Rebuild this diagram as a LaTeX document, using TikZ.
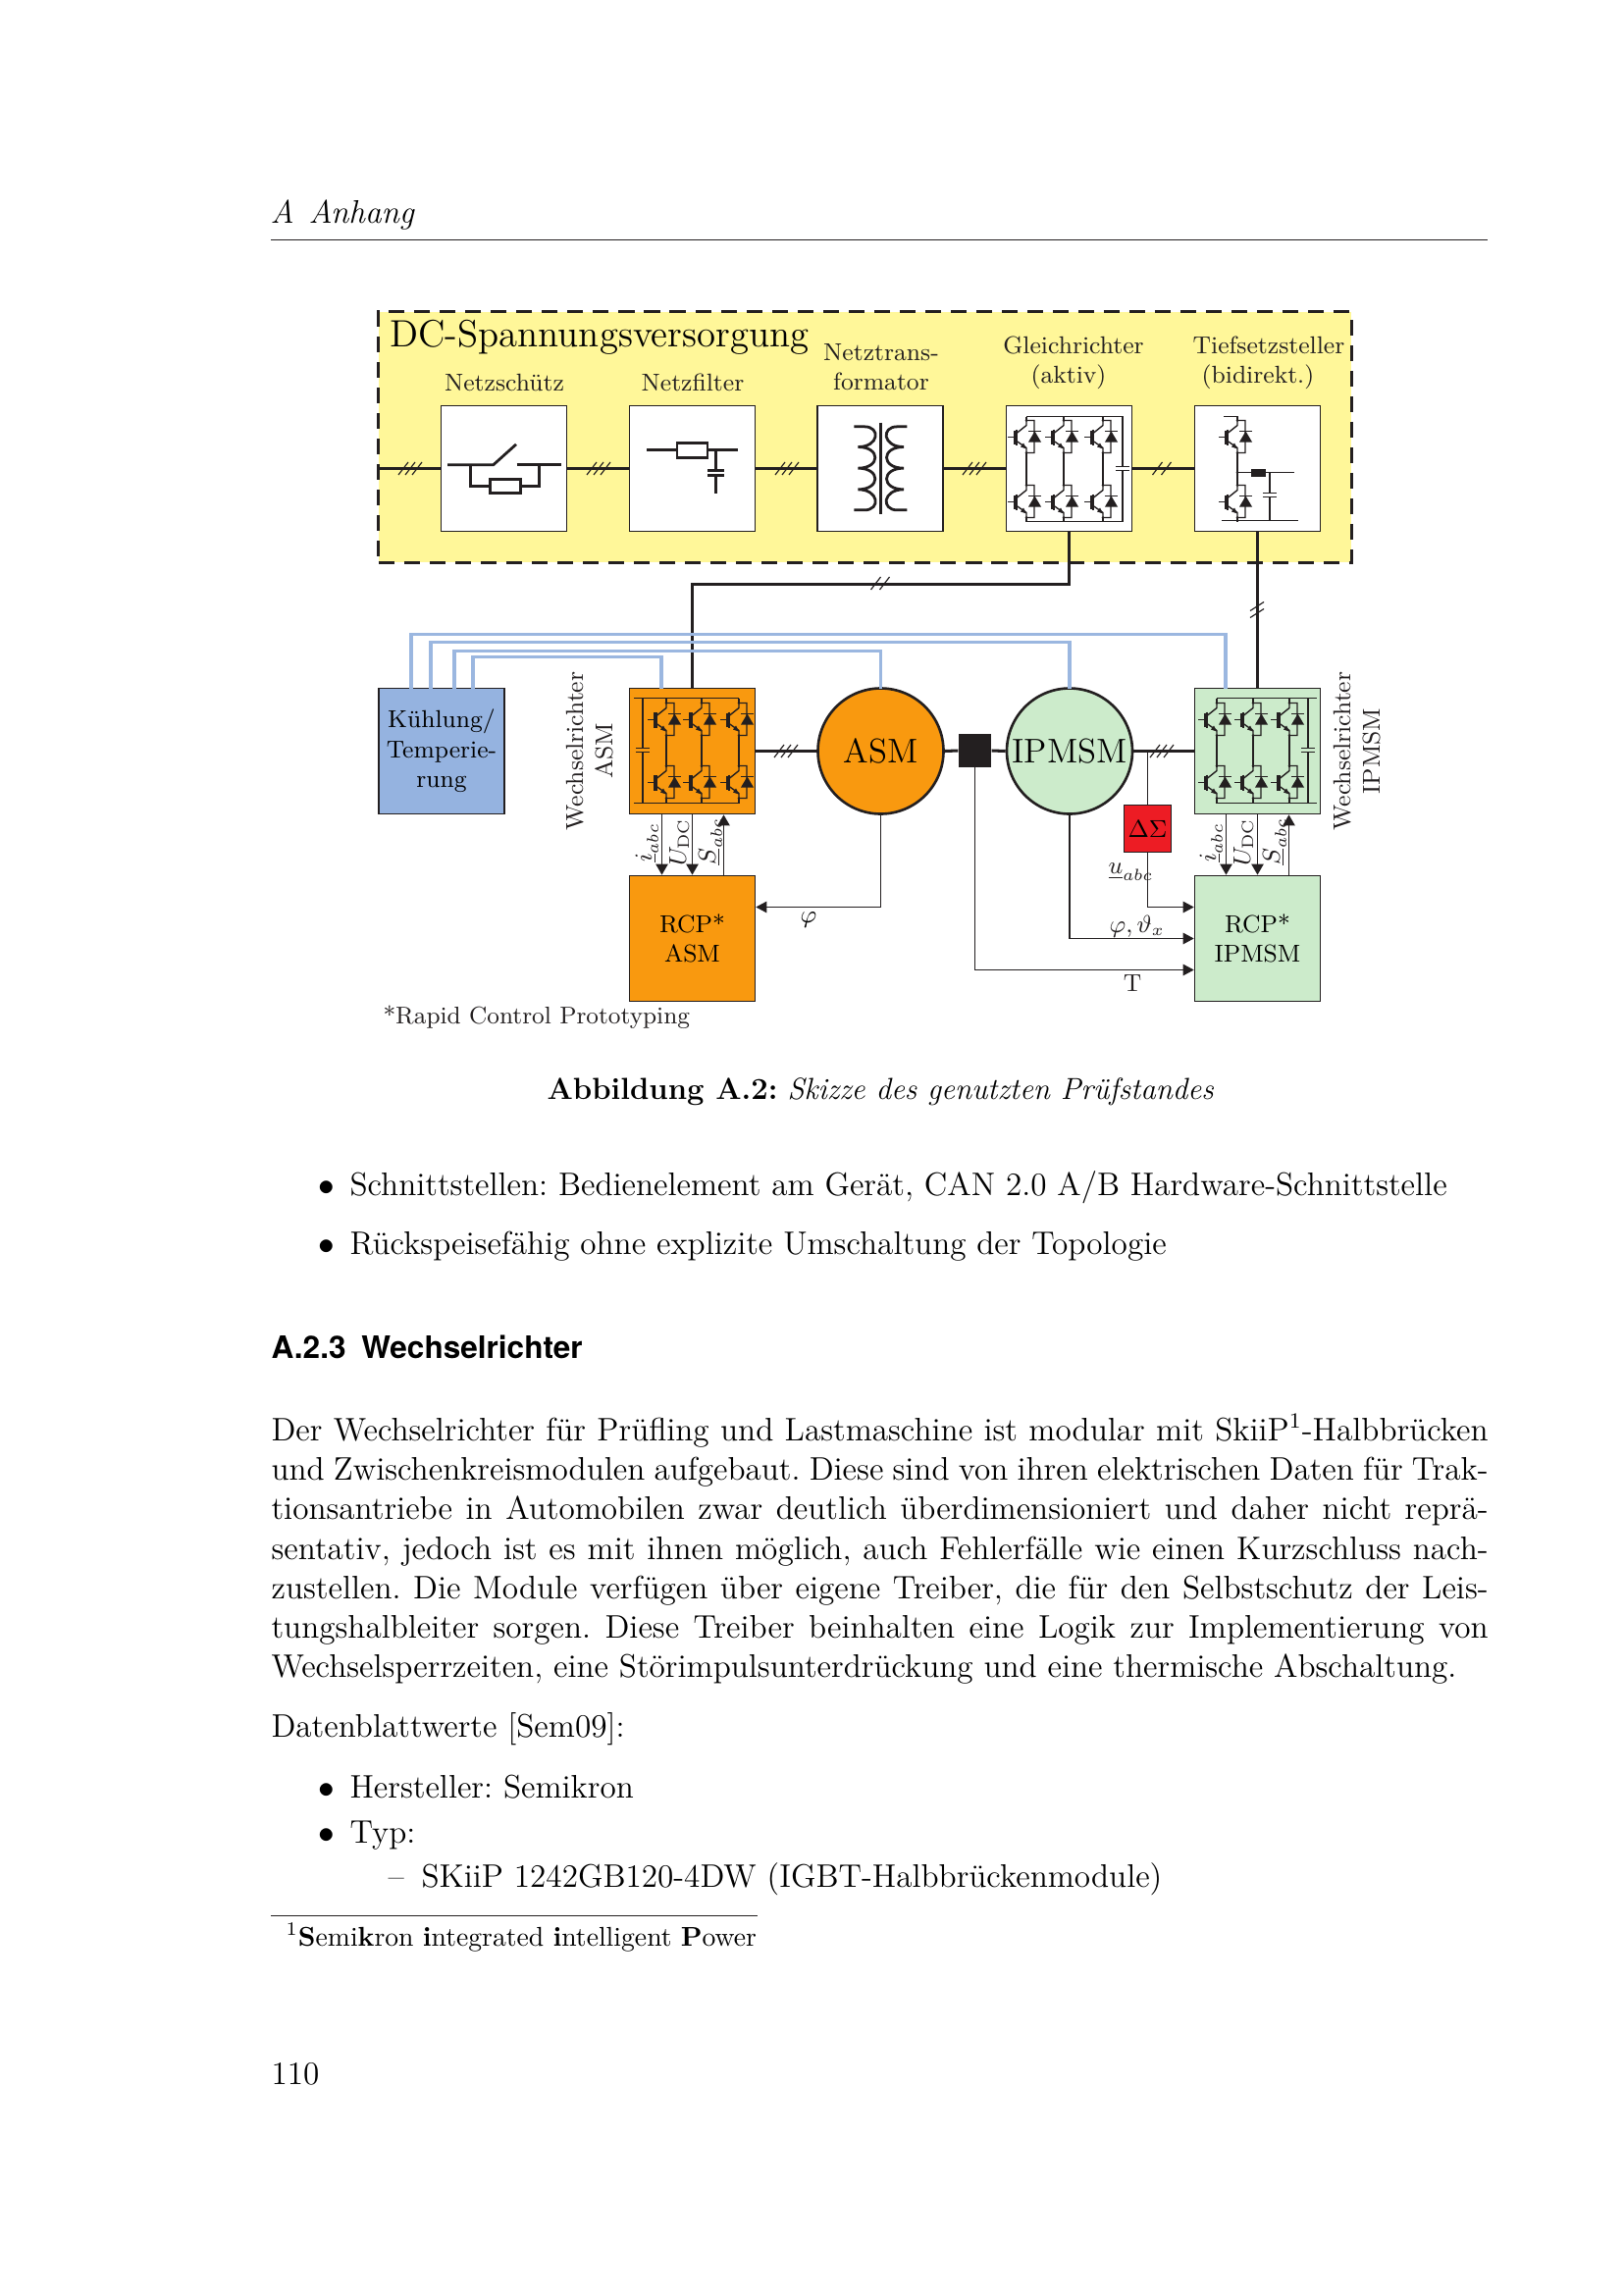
\documentclass[tikz,border=0pt]{standalone}
\usepackage{fontspec}
\newfontfamily\hvfont{TeX Gyre Heros}
\usetikzlibrary{arrows.meta,calc}
\definecolor{ink}{HTML}{231F20}
\definecolor{yel}{HTML}{FFF799}
\definecolor{org}{HTML}{F9990F}
\definecolor{blu}{HTML}{95B3E0}
\definecolor{cool}{HTML}{9BB7E0}
\definecolor{grn}{HTML}{CCEBCB}
\definecolor{rd}{HTML}{ED1C24}
\tikzset{
  x=0.12697mm,y=-0.12697mm,
  fn9/.style={font=\fontsize{9}{11}\selectfont},
  box/.style={draw=ink,line width=.6pt,rectangle,minimum size=16.25mm,inner sep=0pt,fn9,align=center},
  motor/.style={draw=ink,line width=.95pt,circle,minimum size=16.25mm,inner sep=0pt,font=\fontsize{12.6}{14}\selectfont},
  lbl/.style={fn9,inner sep=0pt,anchor=base,text=ink},
  lblw/.style={fn9,inner sep=0pt,anchor=base west,text=ink},
  txt/.style={inner sep=0pt,anchor=base west,font=\fontsize{12}{14.5}\selectfont\frenchspacing},
  pw/.style={draw=ink,line width=1.1pt},
  sig/.style={draw=ink,line width=.7pt,-{Triangle[length=4pt,width=4.4pt]}},
  thinw/.style={draw=ink,line width=.42pt},
  thinar/.style={draw=ink,line width=.42pt,-{Triangle[length=4pt,width=4.2pt]}},
  coolw/.style={draw=cool,line width=1.1pt},
  sym/.style={draw=ink,line width=1pt},
  z3/.style={shift={(#1)},x=.0423233mm,y=-.0423233mm},
  pics/igbt/.style={code={
    \draw[draw=ink,line width=.35pt] (-19,0)--(-12,0);
    \draw[draw=ink,line width=.4pt] (-12,-7)--(-12,7);
    \draw[draw=ink,line width=.5pt] (-10,-8)--(-10,8);
    \draw[draw=ink,line width=.5pt] (-10,-4)--(0,-12)--(0,-17)--(8,-17)--(8,16)--(0,16)--(0,11)--(-10,4);
    \fill[ink] (0,12)--(-6,10)--(-3,6)--cycle;
    \fill[ink] (2,5)--(15,5)--(8.5,-6)--cycle;
    \draw[draw=ink,line width=.5pt] (2,-6)--(15,-6);
    \fill[ink] (0,-17) circle (1.3) (0,16) circle (1.3);
  }},
  pics/igbtb/.style={code={
    \draw[draw=ink,line width=.35pt] (-19,0)--(-12,0);
    \fill[ink] (-13,-8) rectangle (-9,8);
    \draw[draw=ink,line width=.5pt] (-10,-4)--(0,-12)--(0,-17)--(8,-17)--(8,16)--(0,16)--(0,11)--(-10,4);
    \fill[ink] (0,12)--(-6,10)--(-3,6)--cycle;
    \fill[ink] (2,5)--(15,5)--(8.5,-6)--cycle;
    \draw[draw=ink,line width=.5pt] (2,-6)--(15,-6);
    \fill[ink] (0,-17) circle (1.3) (0,16) circle (1.3);
  }},
  pics/slashb/.style={code={
    \draw[draw=ink,line width=.42pt] (-9.5,6.5)--(0.5,-6.5) (-0.5,6.5)--(9.5,-6.5);
  }},
  pics/slashc/.style={code={
    \draw[draw=ink,line width=.42pt] (-12,6.5)--(-2,-6.5) (-5,6.5)--(5,-6.5) (2,6.5)--(12,-6.5);
  }},
  pics/slashv/.style={code={
    \draw[draw=ink,line width=.42pt] (-7,0)--(7,-9) (-7,7)--(7,-2);
  }},
}
\begin{document}
\begin{tikzpicture}
\useasboundingbox (0,0) rectangle (1654,2339);
\fill[white] (0,0) rectangle (1654,2339);
\begin{scope}[shift={(1,0.5)}]
% ---- DC box
\node[draw=ink,fill=yel,line width=1.1pt,dash pattern=on 5.8pt off 3.6pt,rectangle,inner sep=0pt,minimum width=125.83mm,minimum height=32.5mm] (dc) at (880.5,445) {};
\node[inner sep=0pt,anchor=base west,font=\fontsize{14}{16}\selectfont] (dct) at (396,353) {DC-Spannungsversorgung};

% ---- boxes
\node[box,fill=white] (sw) at (512.5,477) {};
\node[box,fill=white] (fl) at (704.5,477) {};
\node[box,fill=white] (tr) at (896,477) {};
\node[box,fill=white] (gl) at (1088.5,477) {};
\node[box,fill=white] (tf) at (1280.5,477) {};
\node[box,fill=blu] (ku) at (449,765) {K\"uhlung/\\Temperie-\\rung};
\node[box,fill=org] (wa) at (704.5,765) {};
\node[box,fill=grn] (wi) at (1280.5,765) {};
\node[box,fill=org] (ra) at (704.5,956) {RCP*\\ASM};
\node[box,fill=grn] (ri) at (1280.5,956) {RCP*\\IPMSM};
\node[motor,fill=org] (as) at (896.5,765) {ASM};
\node[motor,fill=grn] (ip) at (1089,765) {IPMSM};
\node[rectangle,fill=ink,inner sep=0pt,minimum size=4.2mm] (bs) at (992.5,764.5) {};
\node[rectangle,draw=ink,fill=rd,line width=.45pt,inner sep=0pt,minimum size=6.1mm,fn9] (ds) at (1168.5,844) {$\Delta\Sigma$};

% ---- labels
\node[lbl] (l1) at (513,398) {Netzsch\"utz};
\node[lbl] (l2) at (705,398) {Netzfilter};
\node[lbl] (l3) at (897,367) {Netztrans-};
\node[lbl] (l4) at (897,397) {formator};
\node[lbl] (l5) at (1093,360) {Gleichrichter};
\node[lbl] (l6) at (1088,390) {(aktiv)};
\node[lbl] (l7) at (1292,360) {Tiefsetzsteller};
\node[lbl] (l8) at (1281,390) {(bidirekt.)};
\node[lbl,rotate=90] (l9) at (593,765) {Wechselrichter};
\node[lbl,rotate=90] (l10) at (623,765) {ASM};
\node[lbl,rotate=90] (l11) at (1375,765) {Wechselrichter};
\node[lbl,rotate=90] (l12) at (1405,765) {IPMSM};
\node[lblw,rotate=90] (s1) at (663,879) {$\underline{i}_{abc}$};
\node[lblw,rotate=90] (s2) at (698,883) {$U_{\mathrm{DC}}$};
\node[lblw,rotate=90] (s3) at (728,882) {$\underline{S}_{abc}$};
\node[lblw,rotate=90] (s4) at (1238,879) {$\underline{i}_{abc}$};
\node[lblw,rotate=90] (s5) at (1273,883) {$U_{\mathrm{DC}}$};
\node[lblw,rotate=90] (s6) at (1303,882) {$\underline{S}_{abc}$};
\node[fn9,inner sep=0pt] (s7) at (823,937) {$\varphi$};
\node[lblw] (s8) at (1128,890) {$\underline{u}_{abc}$};
\node[lblw] (s9) at (1129,950) {$\varphi,\vartheta_x$};
\node[lbl] (s10) at (1153,1010) {T};
\node[lblw,font=\fontsize{8.9}{11}\selectfont] (rp) at (389,1043) {*Rapid Control Prototyping};

% ---- power wires
\coordinate (inp) at (385,477);
\draw[pw] (inp) -- (sw.west);
\draw[pw] (sw.east) -- (fl.west);
\draw[pw] (fl.east) -- (tr.west);
\draw[pw] (tr.east) -- (gl.west);
\draw[pw] (gl.east) -- (tf.west);
\draw[pw] (gl.south) -- ++(0,53) -| (wa.north);
\draw[pw] (tf.south) -- (wi.north);
\draw[pw] (wa.east) -- (as.west);
\draw[pw] (as.east) -- (bs.west);
\draw[pw] (bs.east) -- (ip.west);
\draw[pw] (ip.east) -- (wi.west);
\pic at (417,477) {slashc};
\pic at (609,477) {slashc};
\pic at (801,477) {slashc};
\pic at (992,477) {slashc};
\pic at (1183,477) {slashb};
\pic at (896,594) {slashb};
\pic at (1280,622) {slashv};
\pic at (800,765) {slashc};
\pic at (1183,765) {slashc};

% ---- cooling
\coordinate (ka) at (418,701); \coordinate (kb) at (438,701); \coordinate (kc) at (462,701); \coordinate (kd) at (481,701);
\coordinate (ta) at (1248,701); \coordinate (tb) at (1089,701); \coordinate (tc) at (896.5,701); \coordinate (td) at (673,701);
\draw[coolw,line width=1.35pt] (ka) -- ++(0,-55) -| (ta);
\draw[coolw] (kb) -- ++(0,-47) -| (tb);
\draw[coolw] (kc) -- ++(0,-38) -| (tc);
\draw[coolw] (kd) -- ++(0,-32) -| (td);

% ---- signals
\draw[sig] ($(wa.south)+(-31,0)$) -- ($(ra.north)+(-31,0)$);
\draw[sig] ($(wa.south)+(0,0)$) -- ($(ra.north)+(0,0)$);
\draw[sig] ($(ra.north)+(32,0)$) -- ($(wa.south)+(32,0)$);
\draw[sig] ($(wi.south)+(-32,0)$) -- ($(ri.north)+(-32,0)$);
\draw[sig] ($(wi.south)+(0,0)$) -- ($(ri.north)+(0,0)$);
\draw[sig] ($(ri.north)+(32,0)$) -- ($(wi.south)+(32,0)$);
\draw[thinar] (as.south) |- ($(ra.east)+(0,-32)$);
\coordinate (tap) at (1168.5,765);
\draw[thinw] (tap) -- (ds.north);
\draw[thinar] (ds.south) |- ($(ri.west)+(0,-32)$);
\draw[thinar] (ip.south) |- (ri.west);
\draw[thinar] (bs.south) |- ($(ri.west)+(0,32)$);

% ---- Netzschuetz symbol
\begin{scope}[z3={370,300}]
  \draw[sym] (255,520)--(395,520)--(465,457);
  \draw[sym] (467,520)--(602,520);
  \draw[sym] (325,520)--(325,585)--(385,585);
  \draw[sym] (478,585)--(535,585)--(535,520);
  \draw[sym] (385,565) rectangle (478,607);
  % Netzfilter symbol
  \draw[sym] (865,473)--(957,473);
  \draw[sym] (1050,473)--(1142,473);
  \draw[sym] (957,453) rectangle (1050,497);
  \draw[sym] (1075,473)--(1075,537) (1050,537)--(1100,537);
  \draw[sym] (1050,553)--(1100,553) (1075,553)--(1075,607);
\end{scope}

% ---- Trafo
\begin{scope}[z3={830,410}]
  \draw[sym,line width=1.05pt] (200,60)--(200,340);
  \draw[sym] (118,73)--(150,73) .. controls (200,73) and (195,135) .. (130,135) .. controls (200,135) and (200,200) .. (130,200) .. controls (200,200) and (200,265) .. (130,265) .. controls (195,265) and (200,328) .. (150,328) -- (118,328);
  \draw[sym] (280,73)--(250,73) .. controls (200,73) and (205,135) .. (270,135) .. controls (200,135) and (200,200) .. (270,200) .. controls (200,200) and (200,265) .. (270,265) .. controls (205,265) and (200,328) .. (250,328) -- (280,328);
\end{scope}

% ---- Gleichrichter
\foreach \cx in {1045,1083,1123} {
  \pic at (\cx,445) {igbt};
  \pic at (\cx,511) {igbt};
  \draw[draw=ink,line width=.5pt] (\cx,461)--(\cx,494);
  \draw[draw=ink,line width=.5pt] (\cx,424)--(\cx,428) (\cx,527)--(\cx,531);
}
\draw[draw=ink,line width=.7pt] (1045,424)--(1143,424)--(1143,475) (1143,479)--(1143,531)--(1045,531);
\draw[draw=ink,line width=.6pt] (1136,475)--(1150,475) (1136,479)--(1150,479);

% ---- Tiefsetzsteller
\pic at (1260,445) {igbt};
\pic at (1260,511) {igbt};
\draw[draw=ink,line width=.7pt] (1246,424)--(1260,424)--(1260,428);
\draw[draw=ink,line width=.5pt] (1260,461)--(1260,494) (1260,527)--(1260,531);
\fill[ink] (1260,481) circle (1.5);
\draw[draw=ink,line width=.7pt] (1260,481)--(1318,481);
\fill[ink] (1274,477) rectangle (1289,485);
\draw[draw=ink,line width=.42pt] (1293,481)--(1293,502) (1293,506)--(1293,530);
\draw[draw=ink,line width=.42pt] (1286,502)--(1300,502) (1286,506)--(1300,506);
\draw[draw=ink,line width=.42pt] (1244,530)--(1322,530);

% ---- Wechselrichter ASM
\foreach \cx/\kind in {678/igbtb,714/igbtb,752/igbt} {
  \pic at (\cx,733) {\kind};
  \pic at (\cx,797) {\kind};
  \draw[draw=ink,line width=.5pt] (\cx,749)--(\cx,781);
  \draw[draw=ink,line width=.5pt] (\cx,711)--(\cx,716) (\cx,813)--(\cx,818);
}
\draw[draw=ink,line width=.42pt] (645,711)--(752,711);
\draw[draw=ink,line width=.6pt] (645,818)--(752,818);
\draw[draw=ink,line width=.5pt] (654,711)--(654,762) (654,766)--(654,818);
\draw[draw=ink,line width=.5pt] (647,762)--(661,762) (647,766)--(661,766);

% ---- Wechselrichter IPMSM
\foreach \cx/\kind in {1239/igbt,1276/igbt,1313/igbtb} {
  \pic at (\cx,733) {\kind};
  \pic at (\cx,797) {\kind};
  \draw[draw=ink,line width=.5pt] (\cx,749)--(\cx,781);
  \draw[draw=ink,line width=.5pt] (\cx,711)--(\cx,716) (\cx,813)--(\cx,818);
}
\draw[draw=ink,line width=.42pt] (1239,711)--(1341,711);
\draw[draw=ink,line width=.6pt] (1239,818)--(1341,818);
\draw[draw=ink,line width=.5pt] (1332,711)--(1332,762) (1332,766)--(1332,818);
\draw[draw=ink,line width=.5pt] (1325,762)--(1339,762) (1325,766)--(1339,766);
\end{scope}

% ---- page text
\node[txt,font=\fontsize{12}{14.5}\selectfont\itshape] (hd) at (275,227) {A\hspace{5.4pt}Anhang};
\coordinate (hr1) at (276,244); \coordinate (hr2) at (1516,244);
\draw[draw=ink,line width=.33pt] (hr1) -- (hr2);
\node[txt,font=\fontsize{11.2}{14}\selectfont\frenchspacing] (cap) at (557,1120) {\textbf{Abbildung A.2:} \textit{Skizze des genutzten Pr\"ufstandes}};

\node[txt] (b1m) at (324,1218) {$\bullet$};
\node[txt] (b1) at (356,1218) {Schnittstellen: Bedienelement am Ger\"at, CAN 2.0 A/B Hardware-Schnittstelle};
\node[txt] (b2m) at (324,1278) {$\bullet$};
\node[txt] (b2) at (356,1278) {R\"uckspeisef\"ahig ohne explizite Umschaltung der Topologie};

\node[txt,font=\fontsize{11.4}{14}\selectfont\hvfont\bfseries] (sec) at (276,1384) {A.2.3\hspace{.5em}Wechselrichter};

\node[txt] (p1) at (276,1468) {\makebox[157.45mm][s]{Der Wechselrichter f\"ur Pr\"ufling und Lastmaschine ist modular mit SkiiP$^1$-Halbbr\"ucken}};
\node[txt] (p2) at (276,1508) {\makebox[157.45mm][s]{und Zwischenkreismodulen aufgebaut. Diese sind von ihren elektrischen Daten f\"ur Trak-}};
\node[txt] (p3) at (276,1548.5) {\makebox[157.45mm][s]{tionsantriebe in Automobilen zwar deutlich \"uberdimensioniert und daher nicht repr\"a-}};
\node[txt] (p4) at (276,1589) {\makebox[157.45mm][s]{sentativ, jedoch ist es mit ihnen m\"oglich, auch Fehlerf\"alle wie einen Kurzschluss nach-}};
\node[txt] (p5) at (276,1629) {\makebox[157.45mm][s]{zustellen. Die Module verf\"ugen \"uber eigene Treiber, die f\"ur den Selbstschutz der Leis-}};
\node[txt] (p6) at (276,1669) {\makebox[157.45mm][s]{tungshalbleiter sorgen. Diese Treiber beinhalten eine Logik zur Implementierung von}};
\node[txt] (p7) at (276,1709.5) {Wechselsperrzeiten, eine St\"orimpulsunterdr\"uckung und eine thermische Abschaltung.};

\node[txt] (d0) at (276,1770) {Datenblattwerte [Sem09]:};
\node[txt] (d1m) at (324,1832) {$\bullet$};
\node[txt] (d1) at (356,1832) {Hersteller: Semikron};
\node[txt] (d2m) at (324,1878) {$\bullet$};
\node[txt] (d2) at (356,1878) {Typ:};
\node[txt] (d3m) at (395,1923) {--};
\node[txt] (d3) at (429,1923) {SKiiP 1242GB120-4DW (IGBT-Halbbr\"uckenmodule)};

\coordinate (fr1) at (276,1952); \coordinate (fr2) at (772,1952);
\draw[draw=ink,line width=.33pt] (fr1) -- (fr2);
\node[inner sep=0pt,anchor=base west,font=\fontsize{10}{12}\selectfont] (fn) at (291,1983) {$^1$\textbf{S}emi\textbf{k}ron \textbf{i}ntegrated \textbf{i}ntelligent \textbf{P}ower};
\node[txt] (pg) at (276,2124) {110};
\end{tikzpicture}
\end{document}
